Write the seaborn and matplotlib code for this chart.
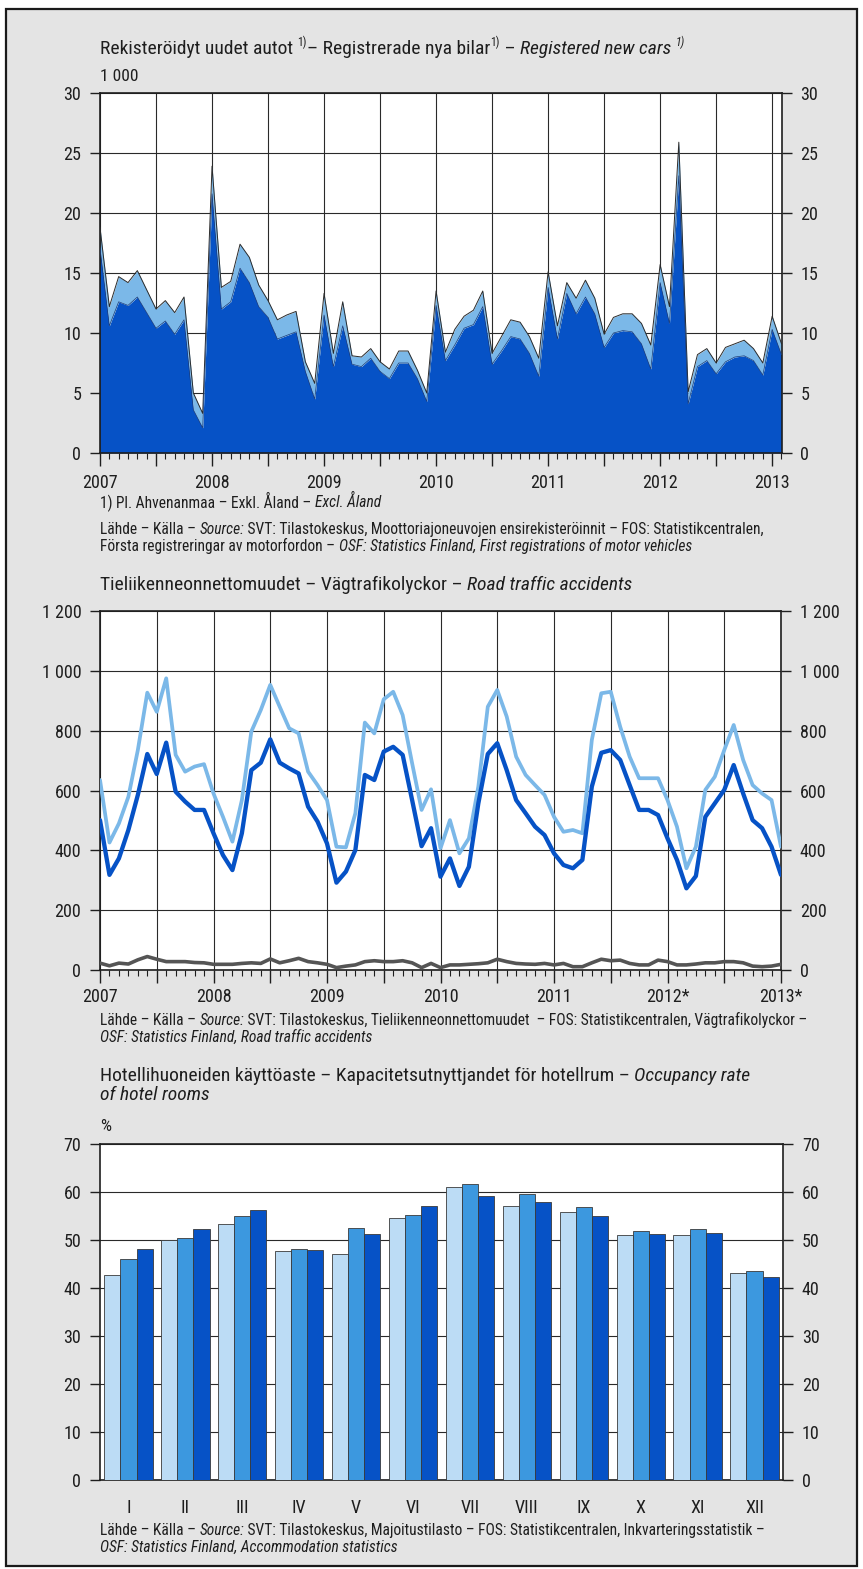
import numpy as np
import pandas as pd
import matplotlib
matplotlib.use("Agg")
import matplotlib.pyplot as plt
import matplotlib.patches as mpatches
from matplotlib import font_manager as fm
from matplotlib.ticker import FuncFormatter, MultipleLocator
import seaborn as sns

# ---------------------------------------------------------------- data
# Registered new cars, thousands per month, Jan 2007 - Feb 2013
cars_lower = [17.1, 10.6, 12.6, 12.3, 13.0, 11.7, 10.4, 11.0, 9.9, 11.1, 3.6, 2.1,
              21.6, 12.0, 12.6, 15.4, 14.2, 12.2, 11.3, 9.5, 9.8, 10.1, 6.8, 4.5,
              11.5, 7.2, 10.6, 7.4, 7.2, 7.9, 6.8, 6.2, 7.5, 7.5, 6.2, 4.3,
              12.3, 7.7, 9.0, 10.4, 10.7, 12.2, 7.4, 8.5, 9.7, 9.5, 8.3, 6.4,
              13.8, 9.5, 13.3, 11.6, 13.0, 11.6, 8.8, 10.0, 10.2, 10.1, 9.1, 7.0,
              14.2, 10.8, 23.1, 4.1, 7.2, 7.7, 6.6, 7.6, 8.0, 8.1, 7.7, 6.5,
              10.3, 8.2]
cars_total = [18.8, 12.2, 14.7, 14.2, 15.2, 13.6, 12.0, 12.7, 11.7, 13.0, 5.0, 3.3,
              23.9, 13.8, 14.3, 17.4, 16.3, 14.0, 12.7, 11.1, 11.5, 11.8, 7.6, 5.8,
              13.3, 8.3, 12.6, 8.1, 8.0, 8.7, 7.6, 7.0, 8.5, 8.5, 6.9, 5.0,
              13.5, 8.4, 10.3, 11.4, 11.9, 13.5, 8.3, 9.7, 11.1, 10.9, 9.7, 7.9,
              15.1, 10.6, 14.2, 12.9, 14.4, 12.9, 9.9, 11.3, 11.6, 11.6, 10.8, 9.0,
              15.7, 12.2, 25.9, 5.1, 8.2, 8.7, 7.5, 8.8, 9.1, 9.4, 8.7, 7.5,
              11.4, 9.1]

# Road traffic accidents per month, Jan 2007 - Jan 2013
road_light = [635, 426, 490, 579, 735, 927, 863, 975, 719, 663, 680, 688,
              590, 512, 429, 568, 797, 869, 953, 880, 808, 791, 663, 618,
              568, 412, 410, 524, 827, 791, 905, 930, 852, 691, 535, 604,
              407, 501, 390, 440, 613, 880, 936, 847, 713, 652, 618, 585,
              512, 462, 468, 457, 769, 925, 930, 813, 713, 641, 641, 641,
              568, 479, 340, 412, 602, 646, 735, 819, 702, 618, 590, 568,
              412]
road_dark = [501, 318, 373, 468, 585, 722, 655, 760, 596, 563, 535, 535,
             457, 384, 334, 457, 668, 693, 771, 693, 674, 657, 546, 496,
             423, 292, 329, 401, 652, 635, 730, 746, 719, 568, 414, 474,
             312, 373, 281, 345, 557, 722, 758, 668, 568, 524, 479, 451,
             390, 351, 340, 368, 613, 726, 735, 702, 618, 535, 535, 518,
             440, 368, 273, 314, 512, 557, 602, 685, 590, 501, 474, 412,
             318]
road_gray = [23, 14, 23, 20, 34, 45, 36, 28, 28, 28, 25, 24,
             19, 19, 19, 22, 24, 22, 37, 24, 31, 39, 28, 24,
             19, 8, 13, 17, 28, 31, 28, 28, 31, 24, 8, 22,
             8, 17, 17, 19, 21, 24, 36, 28, 22, 20, 19, 22,
             17, 22, 11, 11, 24, 36, 31, 33, 22, 17, 17, 33,
             28, 17, 17, 20, 24, 24, 28, 28, 24, 13, 11, 13,
             19]
year_labels = ["2007", "2008", "2009", "2010", "2011", "2012*", "2013*"]

# Occupancy rate of hotel rooms, %, by month
months = ["I", "II", "III", "IV", "V", "VI", "VII", "VIII", "IX", "X", "XI", "XII"]
years3 = ["2010", "2011", "2012"]
occ_a = [42.8, 49.9, 53.3, 47.7, 47.0, 54.5, 61.0, 57.1, 55.9, 51.0, 51.1, 43.1]
occ_b = [46.1, 50.4, 54.9, 48.2, 52.6, 55.2, 61.7, 59.5, 56.9, 51.8, 52.3, 43.6]
occ_c = [48.1, 52.2, 56.2, 48.0, 51.3, 57.0, 59.1, 57.9, 55.1, 51.3, 51.5, 42.3]

# ---------------------------------------------------------------- style
sns.set_theme(style="white")


def pick_font(names):
    for n in names:
        try:
            fm.findfont(fm.FontProperties(family=n), fallback_to_default=False)
            return n
        except Exception:
            pass
    return "DejaVu Sans"


BASE = pick_font(["Liberation Sans Narrow", "Roboto Condensed", "DejaVu Sans"])
plt.rcParams["font.family"] = [BASE, "DejaVu Sans"]
plt.rcParams["axes.unicode_minus"] = False

DARK = "#0652c6"
MID = "#3c98df"
LIGHT = "#7bb8e8"
PALE = "#bcdcf5"
GRAY = "#555555"
INK = "#1e1e1e"

W, H = 863, 1569
fig = plt.figure(figsize=(W / 100, H / 100), dpi=100)
fig.patch.set_facecolor("white")
fig.add_artist(mpatches.Rectangle((6 / W, 1 - 1566 / H), 851 / W, 1557 / H,
                                  transform=fig.transFigure, facecolor="#e4e4e4",
                                  edgecolor="#1a1a1a", lw=1.6, zorder=-10))

renderer = fig.canvas.get_renderer()
_bar_cache = {}


def text_width(txt, fs, style):
    key = (fs, style)
    if key not in _bar_cache:
        t = fig.text(0, 0, "|", fontsize=fs, fontstyle=style)
        _bar_cache[key] = t.get_window_extent(renderer).width
        t.remove()
    t = fig.text(0, 0, txt + "|", fontsize=fs, fontstyle=style)
    w = t.get_window_extent(renderer).width - _bar_cache[key]
    t.remove()
    return w


def rich_line(x_px, base_px, segs, size):
    """Draw a line of text made of (text, style[, superscript]) pieces."""
    x = x_px
    for seg in segs:
        txt, style = seg[0], seg[1]
        sup = len(seg) > 2 and seg[2]
        fs = size * 0.6 if sup else size
        yb = base_px - (size * 100 / 72 * 0.40 if sup else 0)
        fig.text(x / W, 1 - yb / H, txt, fontsize=fs, fontstyle=style,
                 ha="left", va="baseline", color=INK)
        x += text_width(txt, fs, style)


def px_axes(left, top, right, bottom):
    return fig.add_axes([left / W, 1 - bottom / H, (right - left) / W, (bottom - top) / H])


def style_axes(ax):
    ax.set_facecolor("white")
    for s in ax.spines.values():
        s.set_color(INK)
        s.set_linewidth(1.2)
        s.set_visible(True)
    ax.tick_params(axis="y", which="both", direction="out", length=7.5, width=1,
                   color=INK, left=True, right=True, labelleft=True, labelright=True,
                   labelsize=13, pad=6, labelcolor=INK)
    ax.set_axisbelow(True)


def time_axis(ax, start, end, labels):
    ax.set_xlim(start, end)
    major = np.arange(2007, 2013.01, 0.5)
    ax.set_xticks(major)
    ax.set_xticklabels([labels[int(v - 2007)] if float(v).is_integer() else "" for v in major])
    ax.set_xticks(np.arange(2007, end + 1e-6, 1 / 12), minor=True)
    ax.tick_params(axis="x", which="major", direction="out", length=9, width=1,
                   color=INK, labelsize=13, labelcolor=INK, bottom=True)
    ax.tick_params(axis="x", which="minor", direction="out", length=4, width=0.8,
                   color=INK, bottom=True)
    ax.grid(True, which="major", color="#2a2a2a", lw=0.8)


TITLE = 14
SRC = 11.2

# ---------------------------------------------------------------- panel 1
rich_line(100, 54, [("Rekisteröidyt uudet autot ", "normal"), ("1)", "normal", True),
                    ("– Registrerade nya bilar", "normal"), ("1)", "normal", True),
                    (" – ", "normal"), ("Registered new cars ", "italic"),
                    ("1)", "italic", True)], TITLE)
rich_line(100, 81, [("1 000", "normal")], 12.5)

ax1 = px_axes(100, 93, 781.5, 453)
style_axes(ax1)
x1 = 2007 + np.arange(len(cars_total)) / 12
ax1.fill_between(x1, 0, cars_lower, color=DARK, lw=0, zorder=2)
ax1.fill_between(x1, cars_lower, cars_total, color=LIGHT, lw=0, zorder=2)
sns.lineplot(x=x1, y=cars_total, ax=ax1, color="#2b2b2b", lw=0.7, zorder=3)
sns.lineplot(x=x1, y=cars_lower, ax=ax1, color="#1c3c78", lw=0.5, zorder=3)
ax1.set_ylim(0, 30)
ax1.yaxis.set_major_locator(MultipleLocator(5))
time_axis(ax1, 2007, 2007 + 73 / 12, ["2007", "2008", "2009", "2010", "2011", "2012", "2013"])
ax1.tick_params(axis="x", which="major", pad=6)
ax1.set_xlabel("")
ax1.set_ylabel("")

rich_line(100, 507, [("1) Pl. Ahvenanmaa – Exkl. Åland – ", "normal"), ("Excl. Åland", "italic")], SRC)
rich_line(100, 534, [("Lähde – Källa – ", "normal"), ("Source:", "italic"),
                     (" SVT: Tilastokeskus, Moottoriajoneuvojen ensirekisteröinnit – FOS: Statistikcentralen,", "normal")], SRC)
rich_line(100, 551, [("Första registreringar av motorfordon – ", "normal"),
                     ("OSF: Statistics Finland, First registrations of motor vehicles", "italic")], SRC)

# ---------------------------------------------------------------- panel 2
rich_line(100, 590, [("Tieliikenneonnettomuudet – Vägtrafikolyckor – ", "normal"),
                     ("Road traffic accidents", "italic")], TITLE)

ax2 = px_axes(100, 611, 781, 970)
style_axes(ax2)
x2 = 2007 + np.arange(len(road_dark)) / 12
road = pd.DataFrame({"x": x2, "light": road_light, "dark": road_dark, "gray": road_gray})
sns.lineplot(data=road, x="x", y="gray", ax=ax2, color=GRAY, lw=2.6, zorder=3)
sns.lineplot(data=road, x="x", y="light", ax=ax2, color=LIGHT, lw=2.7, zorder=4)
sns.lineplot(data=road, x="x", y="dark", ax=ax2, color=DARK, lw=3.1, zorder=5)
ax2.set_ylim(0, 1200)
ax2.yaxis.set_major_locator(MultipleLocator(200))
ax2.yaxis.set_major_formatter(FuncFormatter(lambda v, p: f"{int(v):,}".replace(",", " ")))
time_axis(ax2, 2007, 2013, year_labels)
ax2.tick_params(axis="x", which="major", pad=4)
ax2.set_xlabel("")
ax2.set_ylabel("")

rich_line(100, 1025, [("Lähde – Källa – ", "normal"), ("Source:", "italic"),
                      (" SVT: Tilastokeskus, Tieliikenneonnettomuudet  – FOS: Statistikcentralen, Vägtrafikolyckor –", "normal")], SRC)
rich_line(100, 1042, [("OSF: Statistics Finland, Road traffic accidents", "italic")], SRC)

# ---------------------------------------------------------------- panel 3
rich_line(100, 1081, [("Hotellihuoneiden käyttöaste – Kapacitetsutnyttjandet för hotellrum – ", "normal"),
                      ("Occupancy rate", "italic")], TITLE)
rich_line(100, 1100, [("of hotel rooms", "italic")], TITLE)
rich_line(100, 1131, [("%", "normal")], 12.5)

ax3 = px_axes(100, 1144, 783, 1480)
style_axes(ax3)
occ = pd.DataFrame({
    "month": months * 3,
    "year": [y for y in years3 for _ in months],
    "value": occ_a + occ_b + occ_c,
})
sns.barplot(data=occ, x="month", y="value", hue="year", order=months, hue_order=years3,
            palette=[PALE, MID, DARK], saturation=1, width=0.85, edgecolor="#3a3a3a",
            linewidth=0.6, legend=False, ax=ax3, zorder=3)
ax3.set_xlim(-0.5, 11.5)
ax3.set_ylim(0, 70)
ax3.yaxis.set_major_locator(MultipleLocator(10))
ax3.grid(True, axis="y", color="#2a2a2a", lw=0.8)
ax3.grid(False, axis="x")
ax3.tick_params(axis="x", length=0, labelsize=13, pad=14, labelcolor=INK)
ax3.set_xlabel("")
ax3.set_ylabel("")

rich_line(100, 1535, [("Lähde – Källa – ", "normal"), ("Source:", "italic"),
                      (" SVT: Tilastokeskus, Majoitustilasto – FOS: Statistikcentralen, Inkvarteringsstatistik –", "normal")], SRC)
rich_line(100, 1552, [("OSF: Statistics Finland, Accommodation statistics", "italic")], SRC)

fig.savefig("out.png", dpi=100, facecolor=fig.get_facecolor())
